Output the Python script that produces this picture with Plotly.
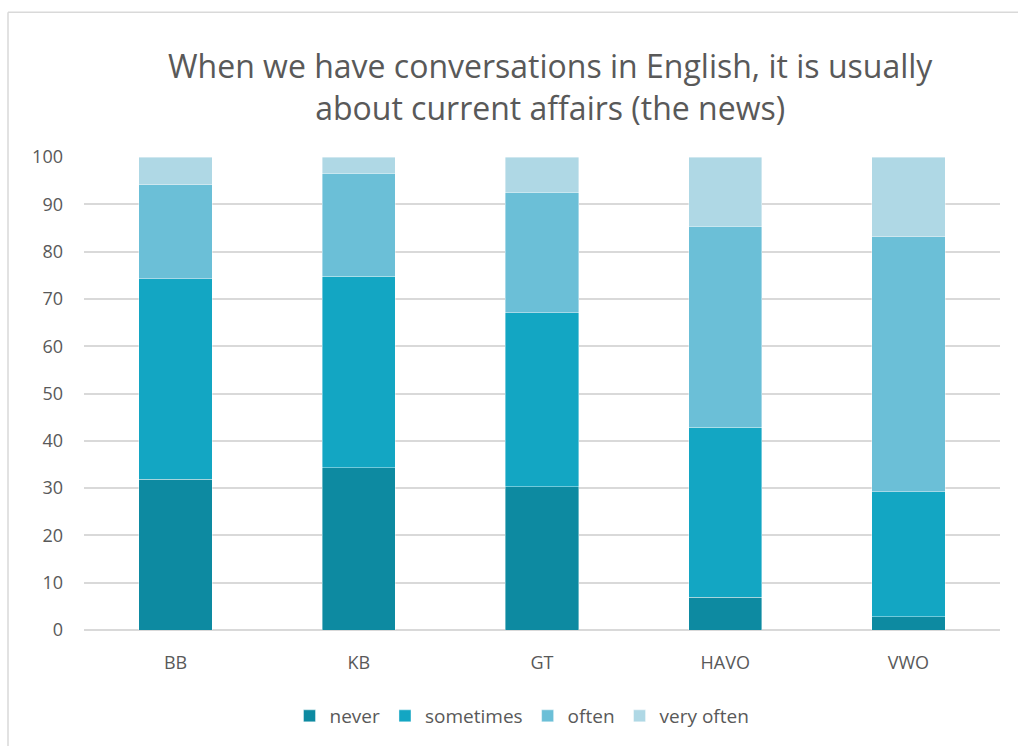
import plotly.graph_objects as go

categories = ["BB", "KB", "GT", "HAVO", "VWO"]
never = [31.9, 34.3, 30.3, 6.9, 2.8]
sometimes = [42.4, 40.5, 36.8, 36.0, 26.4]
often = [19.8, 21.8, 25.5, 42.5, 53.9]
very_often = [5.9, 3.4, 7.4, 14.6, 16.9]
series_names = ["never", "sometimes", "often", "very often"]
colors = ["#0D8AA1", "#13A6C3", "#6BBFD7", "#AFD8E5"]

W, H = 1018, 746
ml, mr, mt, mb = 84, 18, 157, 115
pw, ph = W - ml - mr, H - mt - mb

def px(x):
    return (x - ml) / pw

def py(y):
    return (H - mb - y) / ph

fig = go.Figure()
for name, vals, col in zip(series_names, [never, sometimes, often, very_often], colors):
    fig.add_trace(go.Bar(x=categories, y=vals, name=name, marker=dict(color=col, line=dict(width=0.8, color="rgba(255,255,255,0.5)"))))

font_family = "Open Sans, Liberation Sans, sans-serif"
fig.update_layout(
    barmode="stack",
    bargap=0.6,
    width=W, height=H,
    margin=dict(l=ml, r=mr, t=mt, b=mb),
    paper_bgcolor="white", plot_bgcolor="white",
    font=dict(family=font_family, color="#595959", size=18),
    showlegend=True,
    legend=dict(orientation="h", x=px(522), xanchor="center", y=py(716), yanchor="middle",
                font=dict(size=19, color="#595959"), itemwidth=30, traceorder="normal"),
    xaxis=dict(showgrid=False, showline=False, ticks="", ticklabelstandoff=20,
               tickfont=dict(size=18, color="#595959")),
    yaxis=dict(range=[0, 100], dtick=10, showgrid=True, gridcolor="#D9D9D9", gridwidth=1.5,
               zeroline=True, zerolinecolor="#D9D9D9", zerolinewidth=1.5,
               ticks="", ticklabelstandoff=20, tickfont=dict(size=18, color="#595959")),
    annotations=[dict(text="When we have conversations in English, it is usually<br>about current affairs (the news)",
                      xref="paper", yref="paper", x=px(550), y=py(86), xanchor="center", yanchor="middle",
                      showarrow=False, font=dict(size=32, color="#595959", family=font_family))],
    shapes=[
        dict(type="line", xref="paper", yref="paper", x0=px(8), x1=px(8), y0=py(760), y1=py(12),
             line=dict(color="#D9D9D9", width=1.5)),
        dict(type="line", xref="paper", yref="paper", x0=px(8), x1=px(1030), y0=py(12), y1=py(12),
             line=dict(color="#D9D9D9", width=1.5)),
    ],
)
fig.write_html("out.html")
